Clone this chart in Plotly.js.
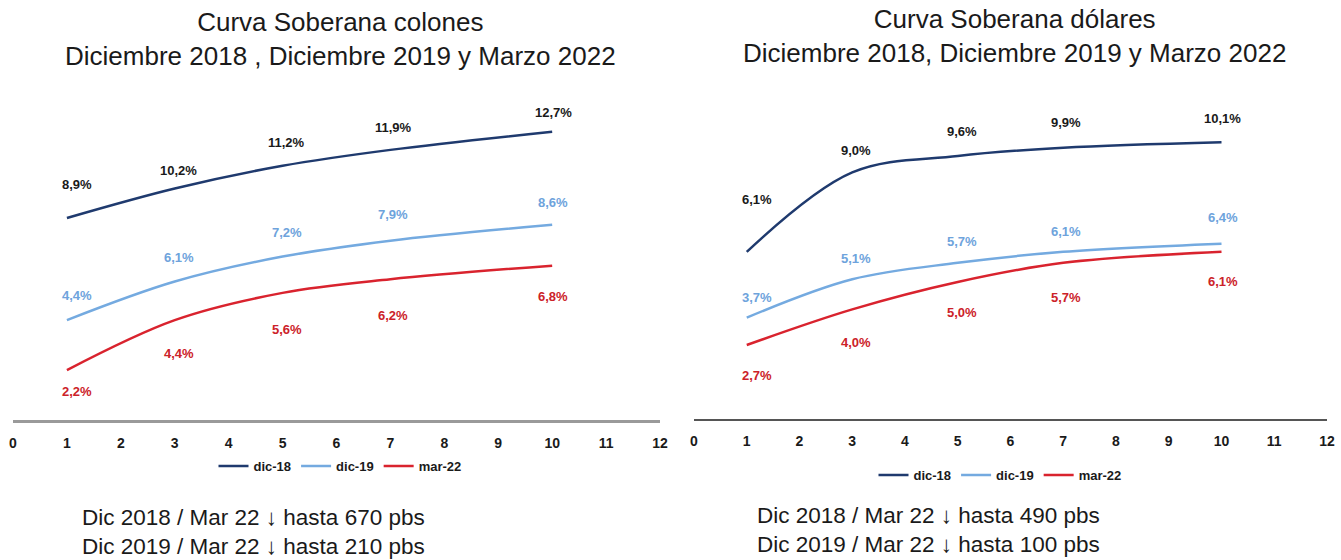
<!DOCTYPE html>
<html><head><meta charset="utf-8">
<script src="https://cdn.plot.ly/plotly-3.0.1.min.js"></script>
<style>html,body{margin:0;padding:0;background:#fff}#chart{width:1341px;height:560px}</style>
</head><body><div id="chart"></div>
<script>
// ---- data ----
const plazos = [1, 3, 5, 7, 10];
const seriesNames = ['dic-18', 'dic-19', 'mar-22'];
const colones_dic18 = [8.9, 10.2, 11.2, 11.9, 12.7];
const colones_dic19 = [4.4, 6.1, 7.2, 7.9, 8.6];
const colones_mar22 = [2.2, 4.4, 5.6, 6.2, 6.8];
const dolares_dic18 = [6.1, 9.0, 9.6, 9.9, 10.1];
const dolares_dic19 = [3.7, 5.1, 5.7, 6.1, 6.4];
const dolares_mar22 = [2.7, 4.0, 5.0, 5.7, 6.1];
const xTicks = [0, 1, 2, 3, 4, 5, 6, 7, 8, 9, 10, 11, 12];
const titleColones = 'Curva Soberana colones<br>Diciembre 2018 , Diciembre 2019 y Marzo 2022';
const titleDolares = 'Curva Soberana dólares<br>Diciembre 2018, Diciembre 2019 y Marzo 2022';
const notesColones = ['Dic 2018 / Mar 22 ↓ hasta 670 pbs', 'Dic 2019 / Mar 22 ↓ hasta 210 pbs'];
const notesDolares = ['Dic 2018 / Mar 22 ↓ hasta 490 pbs', 'Dic 2019 / Mar 22 ↓ hasta 100 pbs'];

// ---- styles ----
const lineColors = ['#1f3a6e', '#74aae0', '#d9232e'];
const labelColors = ['#1a1a1a', '#6ea3dc', '#cc2229'];
const narrow = '"Liberation Sans Narrow", "Arial Narrow", "Liberation Sans", Arial, "DejaVu Sans", sans-serif';
const sans = '"Liberation Sans", Arial, "DejaVu Sans", sans-serif';
const labelShiftY = {
  colones: [[33, 18, 23, 22, 19], [25, 24, 24, 26, 22], [-21, -33, -37, -36, -31]],
  dolares: [[52, 22, 24, 25, 24], [20, 21, 21, 20, 26], [-30, -33, -30, -35, -30]]
};
const labelShiftX = [10, 4, 4, 3, 1];

const colones = [colones_dic18, colones_dic19, colones_mar22];
const dolares = [dolares_dic18, dolares_dic19, dolares_mar22];

const fmt = v => v.toFixed(1).replace('.', ',') + '%';

const traces = [];
const annotations = [];
function addPanel(sets, xa, ya, legendId, shifts) {
  sets.forEach((vals, i) => {
    traces.push({
      x: plazos, y: vals, type: 'scatter', mode: 'lines',
      name: seriesNames[i], xaxis: xa, yaxis: ya, legend: legendId,
      line: {color: lineColors[i], width: 2.5, shape: 'spline', smoothing: 1},
      hoverinfo: 'skip'
    });
    vals.forEach((v, j) => {
      annotations.push({
        x: plazos[j], y: v, xref: xa, yref: ya, text: fmt(v), showarrow: false,
        xshift: labelShiftX[j], yshift: shifts[i][j],
        font: {family: narrow, size: 13, color: labelColors[i], weight: 'bold'}
      });
    });
  });
}
addPanel(colones, 'x', 'y', 'legend', labelShiftY.colones);
addPanel(dolares, 'x2', 'y2', 'legend2', labelShiftY.dolares);

annotations.push({xref: 'paper', yref: 'paper', x: 340/1341, xanchor: 'center', y: 1 - 39/560, yanchor: 'middle', showarrow: false,
  text: titleColones, font: {family: sans, size: 26, color: '#1a1a1a'}});
annotations.push({xref: 'paper', yref: 'paper', x: 1014/1341, xanchor: 'center', y: 1 - 36/560, yanchor: 'middle', showarrow: false,
  text: titleDolares, font: {family: sans, size: 26, color: '#1a1a1a'}});
annotations.push({xref: 'paper', yref: 'paper', x: 80/1341, xanchor: 'left', y: 1 - 532/560, yanchor: 'middle', showarrow: false, align: 'left',
  text: notesColones.join('<br>'), font: {family: sans, size: 22.5, color: '#1a1a1a'}});
annotations.push({xref: 'paper', yref: 'paper', x: 755/1341, xanchor: 'left', y: 1 - 530/560, yanchor: 'middle', showarrow: false, align: 'left',
  text: notesDolares.join('<br>'), font: {family: sans, size: 22.5, color: '#1a1a1a'}});

const tickFont = {family: narrow, size: 14, color: '#1a1a1a', weight: 'bold'};
const baseX = {range: [0, 12], tickvals: xTicks, ticktext: xTicks.map(String), showline: true, ticks: '',
  showgrid: false, zeroline: false, tickfont: tickFont, fixedrange: true, ticklabelstandoff: 8};
const layout = {
  width: 1341, height: 560, margin: {l: 0, r: 0, t: 0, b: 0},
  paper_bgcolor: '#fff', plot_bgcolor: '#fff', showlegend: true,
  xaxis: Object.assign({}, baseX, {domain: [13/1341, 660/1341], anchor: 'y', linecolor: '#9a9a9a', linewidth: 3}),
  yaxis: {domain: [(560-420)/560, (560-100)/560], range: [0, 320/22.7], visible: false, fixedrange: true},
  xaxis2: Object.assign({}, baseX, {domain: [694/1341, 1327/1341], anchor: 'y2', linecolor: '#555555', linewidth: 2}),
  yaxis2: {domain: [(560-419)/560, (560-100)/560], range: [0, 319/27.4], visible: false, fixedrange: true},
  legend: {orientation: 'h', x: 340/1341, xanchor: 'center', y: 1 - 466/560, yanchor: 'middle',
    font: {family: narrow, size: 13, color: '#1a1a1a', weight: 'bold'}, itemwidth: 30, bgcolor: 'rgba(0,0,0,0)'},
  legend2: {orientation: 'h', x: 1000/1341, xanchor: 'center', y: 1 - 475/560, yanchor: 'middle',
    font: {family: narrow, size: 13, color: '#1a1a1a', weight: 'bold'}, itemwidth: 30, bgcolor: 'rgba(0,0,0,0)'},
  annotations: annotations
};
Plotly.newPlot('chart', traces, layout, {displayModeBar: false, staticPlot: true});
</script></body></html>
